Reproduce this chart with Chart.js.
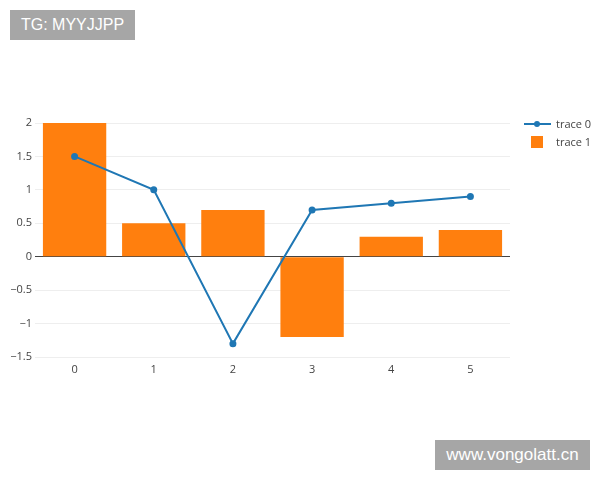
<!DOCTYPE html>
<html>
<head>
<meta charset="utf-8">
<script src="https://cdn.jsdelivr.net/npm/chart.js@4"></script>
<style>
    body { margin: 0; background: #fff; font-family: "Open Sans", sans-serif; }
    #wrap { position: relative; width: 600px; height: 480px; }
    .mark { position: absolute; background: #a6a6a6; color: #fff; font-family: "Liberation Sans", sans-serif; font-size: 16px; height: 30px; line-height: 30px; text-align: center; }
    .legend { position: absolute; left: 524px; top: 116px; font-size: 11px; color: #444; }
    .legend div { position: relative; height: 18px; line-height: 16px; padding-left: 32px; }
    .swatch-line { position: absolute; left: 0; top: 7px; width: 27px; height: 2px; background: #1f77b4; }
    .swatch-line::after { content: ""; position: absolute; left: 10px; top: -2px; width: 6px; height: 6px; border-radius: 3px; background: #1f77b4; }
    .swatch-box { position: absolute; left: 7px; top: 2px; width: 12px; height: 12px; background: #ff7f0e; }
</style>
</head>
<body>
<div id="wrap">
    <canvas id="chart" width="600" height="480"></canvas>
    <div class="mark" style="left:10px; top:10px; width:125px;">TG: MYYJJPP</div>
    <div class="mark" style="left:435px; top:440px; width:155px; font-size:17px;">www.vongolatt.cn</div>
    <div class="legend">
        <div><span class="swatch-line"></span>trace 0</div>
        <div><span class="swatch-box"></span>trace 1</div>
    </div>
</div>
<script>
// chart data
const categories = ["0", "1", "2", "3", "4", "5"];
const trace0 = [1.5, 1, -1.3, 0.7, 0.8, 0.9];
const trace1 = [2, 0.5, 0.7, -1.2, 0.3, 0.4];

// plotly style minus sign for the tick labels
function format_tick(val) {
    const s = String(Math.round(val * 10) / 10);
    return s.replace("-", "\u2212");
}

new Chart("chart", {
    type: "bar",
    data: {
        labels: categories,
        datasets: [
            {
                type: "line",
                label: "trace 0",
                data: trace0,
                borderColor: "#1f77b4",
                backgroundColor: "#1f77b4",
                borderWidth: 2,
                pointRadius: 2.5,
                pointHoverRadius: 2.5,
                tension: 0,
                order: 0
            },
            {
                type: "bar",
                label: "trace 1",
                data: trace1,
                backgroundColor: "#ff7f0e",
                barPercentage: 0.8,
                categoryPercentage: 1,
                order: 1
            }
        ]
    },
    options: {
        responsive: false,
        animation: false,
        layout: { padding: { left: 0, right: 90, top: 123, bottom: 98 } },
        plugins: {
            legend: { display: false },
            tooltip: { enabled: false }
        },
        scales: {
            x: {
                offset: true,
                grid: { display: false, drawTicks: false },
                border: { display: false },
                ticks: { color: "#444", font: { family: "Open Sans", size: 11 }, padding: 6, maxRotation: 0 },
                afterFit: (scale) => { scale.height = 25; }
            },
            y: {
                min: -1.5,
                max: 2,
                grid: {
                    drawTicks: false,
                    color: ctx => ctx.tick && ctx.tick.value === 0 ? "#444" : "#eeeeee"
                },
                border: { display: false },
                ticks: {
                    stepSize: 0.5,
                    color: "#444",
                    font: { family: "Open Sans", size: 11 },
                    padding: 3,
                    callback: val => format_tick(val)
                },
                afterFit: (scale) => { scale.width = 35; }
            }
        }
    }
});
</script>
</body>
</html>
